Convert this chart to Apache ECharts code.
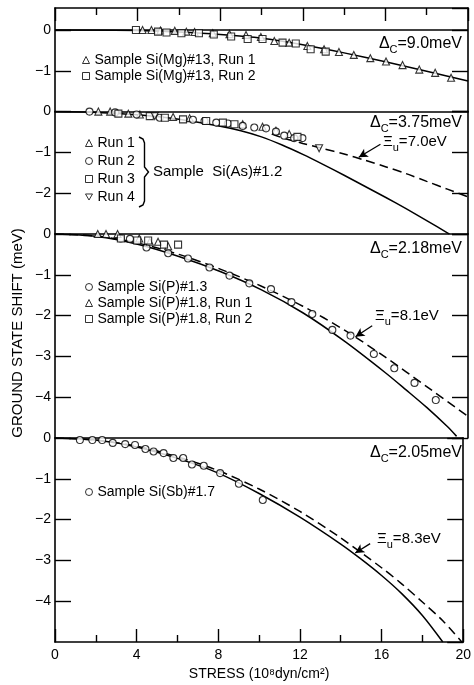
<!DOCTYPE html>
<html><head><meta charset="utf-8">
<script src="https://cdn.jsdelivr.net/npm/echarts@6/dist/echarts.min.js"></script>
<style>html,body{margin:0;padding:0;background:#fff}#c{width:474px;height:685px}</style>
</head><body><div id="c"></div>
<script>
// ---------- Panel 1: Si(Mg) ----------
const mgRun1 = [[4.24,0],[4.67,0],[5.11,-0.01],[5.80,-0.02],[6.36,-0.04],[6.76,-0.05],[7.64,-0.08],[8.45,-0.10],[9.25,-0.12],[9.97,-0.17],[10.62,-0.27],[11.34,-0.31],[12.22,-0.39],[13.03,-0.47],[13.75,-0.54],[14.47,-0.61],[15.27,-0.69],[16.03,-0.77],[16.83,-0.86],[17.64,-0.97],[18.41,-1.05],[19.18,-1.17]];
const mgRun2 = [[3.92,0],[4.99,-0.04],[5.40,-0.06],[6.12,-0.08],[6.97,-0.08],[7.69,-0.11],[8.53,-0.16],[9.33,-0.22],[10.05,-0.22],[11.02,-0.31],[11.66,-0.33],[12.38,-0.47],[13.11,-0.53]];
const mgCurve = [[0,0],[4,-0.01],[6,-0.05],[8,-0.11],[10,-0.2],[12,-0.36],[14,-0.56],[16,-0.78],[18,-1.01],[20,-1.25]];
// ---------- Panel 2: Si(As) ----------
const asRun1 = [[2.10,0],[2.67,0],[3.55,-0.05],[4.11,-0.07],[5.72,-0.13],[6.52,-0.16],[9.09,-0.31],[10.05,-0.37],[10.70,-0.47],[11.34,-0.55]];
const asRun2 = [[1.67,0],[2.91,-0.02],[3.95,-0.07],[5.07,-0.15],[6.68,-0.20],[7.24,-0.23],[7.81,-0.27],[8.37,-0.29],[9.09,-0.35],[9.65,-0.39],[10.22,-0.41],[10.70,-0.49],[11.10,-0.59],[11.58,-0.65],[11.98,-0.65]];
const asRun3 = [[3.07,-0.05],[4.59,-0.11],[5.32,-0.15],[6.20,-0.19],[7.32,-0.23],[8.13,-0.27],[8.69,-0.31],[11.74,-0.62]];
const asRun4 = [[4.83,-0.11],[12.79,-0.90]];
const asSolid = [[0,0],[2,-0.02],[4,-0.08],[6,-0.19],[8,-0.36],[9,-0.47],[10,-0.62],[11,-0.82],[12,-1.05],[13,-1.3],[14,-1.56],[15,-1.83],[16,-2.1],[17,-2.38],[18,-2.67],[19,-2.97],[19.1,-3.0]];
const asDashed = [[10.5,-0.55],[11,-0.64],[12,-0.78],[13,-0.91],[14,-1.04],[15,-1.19],[16,-1.35],[17,-1.52],[18,-1.71],[19,-1.9],[20,-2.09]];
// ---------- Panel 3: Si(P) ----------
const pS13 = [[3.18,-0.11],[3.63,-0.12],[4.43,-0.33],[5.48,-0.47],[6.44,-0.60],[7.48,-0.82],[8.45,-1.02],[9.41,-1.21],[10.46,-1.35],[11.45,-1.67],[12.46,-1.96],[13.43,-2.35],[14.31,-2.49],[15.44,-2.94],[16.43,-3.29],[17.41,-3.65],[18.44,-4.07]];
const pS18Run1 = [[2.07,0],[2.47,0],[3.03,0],[4.08,-0.11],[4.59,-0.19],[4.99,-0.19],[5.48,-0.30]];
const pS18Run2 = [[3.19,-0.11],[3.98,-0.16],[4.51,-0.16],[5.28,-0.26],[5.96,-0.26]];
const pSolid = [[0,0],[2,-0.06],[4,-0.25],[6,-0.55],[8,-0.92],[10,-1.37],[12,-1.93],[14,-2.62],[16,-3.4],[17,-3.82],[18,-4.25],[19,-4.72],[19.45,-4.96]];
const pDashed = [[0,0],[2,-0.05],[4,-0.22],[6,-0.5],[8,-0.86],[10,-1.28],[12,-1.77],[14,-2.35],[16,-3.02],[18,-3.74],[20,-4.47]];
// ---------- Panel 4: Si(Sb) ----------
const sbS17 = [[1.22,-0.05],[1.83,-0.05],[2.31,-0.05],[2.83,-0.12],[3.44,-0.15],[3.92,-0.17],[4.43,-0.27],[4.83,-0.33],[5.32,-0.37],[5.80,-0.49],[6.28,-0.49],[6.71,-0.65],[7.29,-0.68],[8.09,-0.86],[9.01,-1.12],[10.18,-1.52]];
const sbSolid = [[0,0],[2,-0.05],[4,-0.22],[6,-0.5],[8,-0.86],[10,-1.36],[12,-1.94],[14,-2.6],[15,-2.97],[16,-3.37],[17,-3.82],[18,-4.35],[19,-5.0]];
const sbDashed = [[0,0],[2,-0.05],[4,-0.2],[6,-0.46],[8,-0.8],[10,-1.25],[12,-1.8],[14,-2.45],[16,-3.18],[17,-3.58],[18,-4.02],[19,-4.48],[20,-5.04]];
// ---------- Annotations (values) ----------
const deltaC = ['9.0','3.75','2.18','2.05'];
const xiU = [null,'7.0','8.1','8.3'];
const xiArrows = [null, [[15.76,-0.80],[14.71,-1.12]], [[15.36,-2.25],[14.55,-2.52]], [[15.44,-2.59],[14.71,-2.82]]];
const yRanges = [[-2,0.54],[-3,0],[-5,0],[-5,0]];
const xRange = [0,20];
const xTickStep = 4;

// ---------- layout ----------
const FONT = 'Liberation Sans';
const L = 55, R = 6;
const gridTops = [8, 111.6, 234, 438];
const gridHeights = [103.6, 122.4, 204, 204];
const grids = gridTops.map((t,i)=>({left:L, right:R, top:t, height:gridHeights[i]}));
const black = '#000';

function xAxisBase(gi, pos, withTicks, withLabels){
  return {type:'value', gridIndex:gi, position:pos, min:xRange[0], max:xRange[1], interval:xTickStep,
    axisLine:{show:true, onZero:false, lineStyle:{color:black, width:1.6}},
    axisTick:{show:withTicks, inside:true, length:13, lineStyle:{color:black, width:1.4}},
    minorTick:{show:withTicks, splitNumber:2, length:7, lineStyle:{color:black, width:1.4}},
    axisLabel:{show:withLabels, color:black, fontFamily:FONT, fontSize:14, margin:6},
    splitLine:{show:false}, minorSplitLine:{show:false}};
}
const xAxes = [
  xAxisBase(0,'top',true,false),
  xAxisBase(1,'top',false,false),
  xAxisBase(2,'top',false,false),
  xAxisBase(3,'top',false,false),
  Object.assign(xAxisBase(3,'bottom',true,true), {name:'STRESS (10⁸dyn/cm²)', nameLocation:'middle', nameGap:25,
    nameTextStyle:{color:black, fontFamily:FONT, fontSize:14}})
];
const fmt = v => (Math.abs(v-Math.round(v))<1e-6 ? (Math.round(v)<0 ? '−'+Math.abs(Math.round(v)) : '0') : '');
const yAxes = [];
yRanges.forEach((r,i)=>{
  ['left','right'].forEach(side=>{
    yAxes.push({type:'value', gridIndex:i, position:side, min:r[0], max:r[1], interval:1,
      axisLine:{show:true, onZero:false, lineStyle:{color:black, width:1.6}},
      axisTick:{show:true, inside:true, length:16, lineStyle:{color:black, width:1.4}},
      axisLabel:{show:side==='left', showMinLabel:false, showMaxLabel:i>0, formatter:fmt, color:black, fontFamily:FONT, fontSize:14, margin:4},
      splitLine:{show:false}});
  });
});
const xIdx = [0,1,2,3];
function sc(name, data, symbol, p){
  return {type:'scatter', name, data, symbol, symbolSize:7, xAxisIndex:xIdx[p], yAxisIndex:p*2,
    itemStyle:{color:'#fff', borderColor:black, borderWidth:1.1}, z:5};
}
function ln(data, p, dashed, extra){
  return Object.assign({type:'line', data, xAxisIndex:xIdx[p], yAxisIndex:p*2, showSymbol:false, smooth:0.3, silent:true,
    lineStyle:{color:black, width:1.5, type: dashed ? [9,5] : 'solid'}, z:3}, extra||{});
}
function arrowML(p){
  const a = xiArrows[p];
  return {markLine:{silent:true, symbol:['none','arrow'], symbolSize:[7,9], label:{show:false},
    lineStyle:{color:black, width:1.3, type:'solid'},
    data:[[{coord:a[0]},{coord:a[1]}]]}};
}
const TRI='triangle', SQ='rect', CIR='circle', INV='path://M0,0L10,0L5,8.66Z';
const series = [
  ln(mgCurve,0,false,{markLine:{silent:true, symbol:['none','none'], label:{show:false}, lineStyle:{color:black,width:1.6,type:'solid'}, data:[{yAxis:0}]}}),
  sc('Sample Si(Mg)#13, Run 1', mgRun1, TRI, 0),
  sc('Sample Si(Mg)#13, Run 2', mgRun2, SQ, 0),
  ln(asSolid,1,false), ln(asDashed,1,true,arrowML(1)),
  sc('Run 1', asRun1, TRI, 1), sc('Run 2', asRun2, CIR, 1), sc('Run 3', asRun3, SQ, 1), sc('Run 4', asRun4, INV, 1),
  ln(pSolid,2,false), ln(pDashed,2,true,arrowML(2)),
  sc('Sample Si(P)#1.3', pS13, CIR, 2), sc('Sample Si(P)#1.8, Run 1', pS18Run1, TRI, 2), sc('Sample Si(P)#1.8, Run 2', pS18Run2, SQ, 2),
  ln(sbSolid,3,false), ln(sbDashed,3,true,arrowML(3)),
  sc('Sample Si(Sb)#1.7', sbS17, CIR, 3)
];
function legend(names, left, top, gap){
  return {orient:'vertical', left, top, padding:0, itemWidth:7, itemHeight:7, itemGap:gap, selectedMode:false,
    itemStyle:{borderWidth:1},
    data:names, textStyle:{color:black, fontFamily:FONT, fontSize:14, lineHeight:16}};
}
const legends = [
  legend(['Sample Si(Mg)#13, Run 1','Sample Si(Mg)#13, Run 2'], 82, 52, 0),
  legend(['Run 1','Run 2','Run 3','Run 4'], 85, 135, 2),
  legend(['Sample Si(P)#1.3','Sample Si(P)#1.8, Run 1','Sample Si(P)#1.8, Run 2'], 85, 279, 0),
  legend(['Sample Si(Sb)#1.7'], 85, 484, 0)
];
const subRich = {s:{fontFamily:FONT, fontSize:11, padding:[12,0,0,0], fill:black}};
const deltaY = [48, 127, 253, 457];
const xiPos = [null, [383,146], [375,320], [377,543]];
const graphics = [];
deltaC.forEach((d,i)=>{
  graphics.push({type:'text', right:12, top:deltaY[i]-12, style:{text:'Δ{s|C}='+d+'meV', rich:subRich, fontFamily:FONT, fontSize:16, fill:black}});
  if (xiU[i]) graphics.push({type:'text', left:xiPos[i][0], top:xiPos[i][1]-12, style:{text:'Ξ{s|u}='+xiU[i]+'eV', rich:subRich, fontFamily:FONT, fontSize:15, fill:black}});
});
graphics.push({type:'polyline', shape:{points:[[139,137],[143,139],[144.5,143],[144.5,167],[148.5,172],[144.5,177],[144.5,201],[143,205],[139,207]]}, style:{stroke:black, lineWidth:1.4, fill:null}});
graphics.push({type:'text', left:153, top:164, style:{text:'Sample  Si(As)#1.2', fontFamily:FONT, fontSize:15, fill:black}});
graphics.push({type:'text', x:18, y:333, rotation:Math.PI/2, style:{text:'GROUND STATE SHIFT (meV)', align:'center', verticalAlign:'middle', fontFamily:FONT, fontSize:15, fill:black}});

const chart = echarts.init(document.getElementById('c'), null, {renderer:'canvas'});
chart.setOption({animation:false, backgroundColor:'#fff', grid:grids, xAxis:xAxes, yAxis:yAxes, legend:legends, series, graphic:graphics});
</script></body></html>
